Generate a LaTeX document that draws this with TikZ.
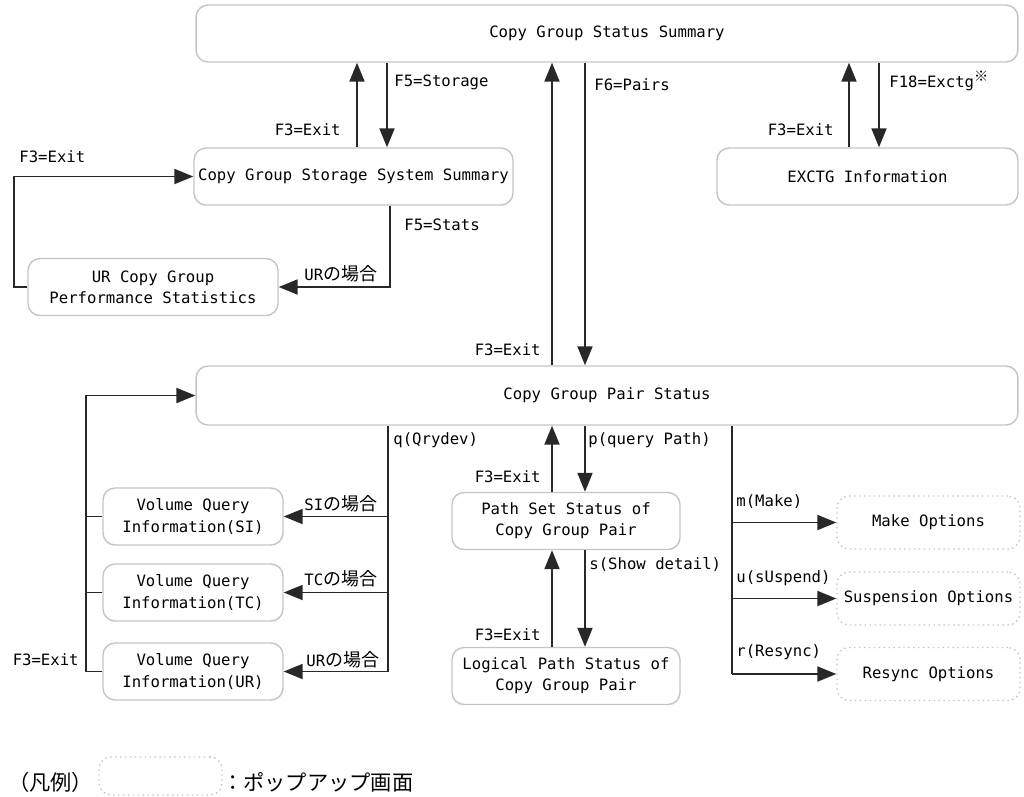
\documentclass[tikz,border=0pt]{standalone}
\usepackage{fontspec}
\setmainfont{DejaVu Sans Mono}
\newfontfamily\jpfont[Scale=1.15]{Noto Sans CJK JP}
\usetikzlibrary{arrows.meta}
\definecolor{boxgray}{RGB}{196,196,196}
\definecolor{linegray}{RGB}{40,40,40}
\newcommand{\jp}[1]{{\jpfont #1}}

\begin{document}
\begin{tikzpicture}[x=0.02cm, y=-0.02cm, ->, >={Triangle[length=3.8mm,width=3mm]},
  font=\fontsize{8.9}{12}\selectfont]
\tikzstyle{screen} = [draw=boxgray, line width=0.8pt, rounded corners=0.24cm, align=center, inner sep=0pt, minimum height=1.14cm]
\tikzstyle{popup} = [screen, dotted]
\tikzstyle{edge} = [draw=linegray, line width=1.1pt]
\tikzstyle{branch} = [edge, -]
\tikzstyle{lbl} = [inner sep=0pt]

\useasboundingbox (0,0) rectangle (1024,796);

% screens
\node[screen, minimum width=16.44cm] (sum) at (607,33.5) {Copy Group Status Summary};
\node[screen, minimum width=6.38cm] (stor) at (353.5,176.5) {Copy Group Storage System Summary};
\node[screen, minimum width=5cm] (perf) at (153,287) {UR Copy Group\\Performance Statistics};
\node[screen, minimum width=6.02cm] (exctg) at (867.5,176.5) {EXCTG Information};
\node[screen, minimum width=16.44cm, minimum height=1.18cm] (pair) at (607,395.5) {Copy Group Pair Status};
\node[screen, minimum width=3.6cm] (volsi) at (193,516.5) {Volume Query\\Information(SI)};
\node[screen, minimum width=3.6cm] (voltc) at (193,592.5) {Volume Query\\Information(TC)};
\node[screen, minimum width=3.6cm] (volur) at (193,671.5) {Volume Query\\Information(UR)};
\node[screen, minimum width=4.56cm] (pset) at (566,521) {Path Set Status of\\Copy Group Pair};
\node[screen, minimum width=4.56cm] (lpath) at (566,676) {Logical Path Status of\\Copy Group Pair};

% popups
\node[popup, minimum width=3.66cm, minimum height=1.06cm] (make) at (928.5,522.5) {Make Options};
\node[popup, minimum width=3.66cm, minimum height=1.06cm] (susp) at (928.5,598.5) {Suspension Options};
\node[popup, minimum width=3.66cm, minimum height=1.06cm] (resync) at (928.5,674) {Resync Options};

% x positions of the vertical lines
\coordinate (a1) at (357,0);
\coordinate (a2) at (387,0);
\coordinate (s1) at (390,0);
\coordinate (b1) at (552,0);
\coordinate (b2) at (585,0);
\coordinate (c1) at (849,0);
\coordinate (c2) at (879,0);
\coordinate (q) at (388,0);
\coordinate (r) at (732,0);
\coordinate (lp) at (86,0);
\coordinate (lq) at (14,0);

\draw[edge] (stor.north -| a1) -- (sum.south -| a1);
\draw[edge] (sum.south -| a2) -- (stor.north -| a2);
\draw[edge] (pair.north -| b1) -- (sum.south -| b1);
\draw[edge] (sum.south -| b2) -- (pair.north -| b2);
\draw[edge] (exctg.north -| c1) -- (sum.south -| c1);
\draw[edge] (sum.south -| c2) -- (exctg.north -| c2);
\draw[edge] (pset.north -| b1) -- (pair.south -| b1);
\draw[edge] (pair.south -| b2) -- (pset.north -| b2);
\draw[edge] (lpath.north -| b1) -- (pset.south -| b1);
\draw[edge] (pset.south -| b2) -- (lpath.north -| b2);

\draw[edge] (perf.west) -- (perf.west -| lq) |- (stor.west);
\draw[edge] (stor.south -| s1) |- (perf.east);

\draw[edge] (volur.west) -- (volur.west -| lp) |- (pair.west);
\draw[branch] (volsi.west) -- (volsi.west -| lp);
\draw[branch] (voltc.west) -- (voltc.west -| lp);

\draw[branch] (pair.south -| q) -- (volur.east -| q);
\draw[edge] (volsi.east -| q) -- (volsi.east);
\draw[edge] (voltc.east -| q) -- (voltc.east);
\draw[edge] (volur.east -| q) -- (volur.east);

\draw[branch] (pair.south -| r) -- (resync.west -| r);
\draw[edge] (make.west -| r) -- (make.west);
\draw[edge] (susp.west -| r) -- (susp.west);
\draw[edge] (resync.west -| r) -- (resync.west);

% labels
\node[lbl, anchor=west] (l1) at (394,82) {F5=Storage};
\node[lbl, anchor=east] (l2) at (341,130) {F3=Exit};
\node[lbl, anchor=west] (l3) at (19,157) {F3=Exit};
\node[lbl, anchor=west] (l4) at (404,225) {F5=Stats};
\node[lbl, anchor=west] (l5) at (304,274) {UR\jp{の場合}};
\node[lbl, anchor=east] (l6) at (541,350) {F3=Exit};
\node[lbl, anchor=west] (l7) at (594,85) {F6=Pairs};
\node[lbl, anchor=east] (l8) at (834,130) {F3=Exit};
\node[lbl, anchor=west] (l9) at (889,81) {F18=Exctg\raisebox{0.35em}{\jpfont\scriptsize ※}};
\node[lbl, anchor=west] (l10) at (393,440) {q(Qrydev)};
\node[lbl, anchor=west] (l11) at (304,504) {SI\jp{の場合}};
\node[lbl, anchor=west] (l12) at (304,579) {TC\jp{の場合}};
\node[lbl, anchor=west] (l13) at (306,660) {UR\jp{の場合}};
\node[lbl, anchor=east] (l14) at (79,660) {F3=Exit};
\node[lbl, anchor=west] (l15) at (588,440) {p(query Path)};
\node[lbl, anchor=east] (l16) at (541,477) {F3=Exit};
\node[lbl, anchor=west] (l17) at (589,565) {s(Show detail)};
\node[lbl, anchor=east] (l18) at (541,635) {F3=Exit};
\node[lbl, anchor=west] (l19) at (736,502) {m(Make)};
\node[lbl, anchor=west] (l20) at (736,578) {u(sUspend)};
\node[lbl, anchor=west] (l21) at (736,652) {r(Resync)};

% legend
\node[lbl, anchor=west, font=\fontsize{10.5}{12}\selectfont] (lg1) at (8,782) {\jp{（凡例）}};
\node[popup, minimum width=2.46cm, minimum height=0.76cm] (lgbox) at (160.5,776) {};
\node[lbl, anchor=west, font=\fontsize{10.5}{12}\selectfont] (lg2) at (222,782) {\jp{：ポップアップ画面}};
\end{tikzpicture}
\end{document}
